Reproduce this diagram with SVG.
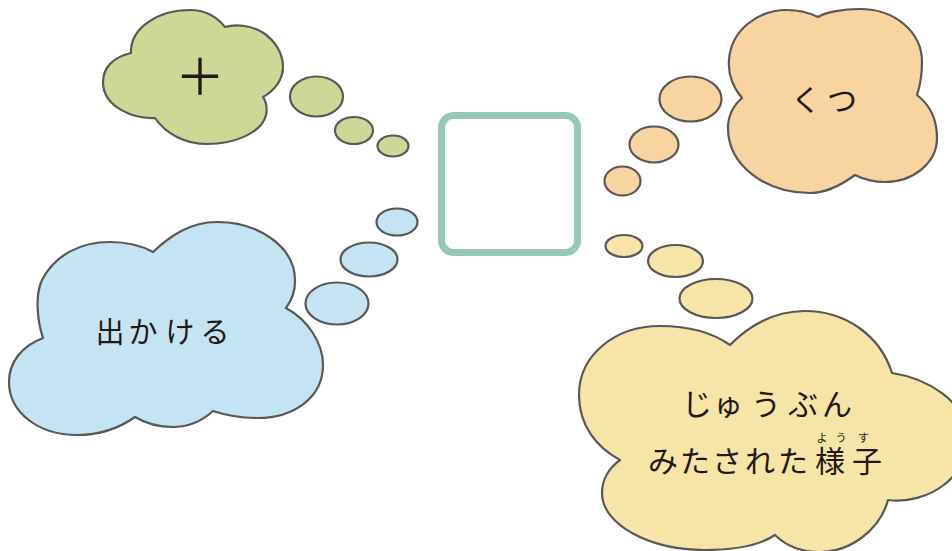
<svg xmlns="http://www.w3.org/2000/svg" width="952" height="551" viewBox="0 0 952 551">
<style>
.cl{stroke:#595757;stroke-width:2.2;stroke-linejoin:round}
.green{fill:#ccd996}
.orange{fill:#f7d4a0}
.blue{fill:#c5e4f3}
.yellow{fill:#f6e5a6}
.t{font-family:"Noto Sans CJK JP","Noto Sans",sans-serif;fill:#231815;text-anchor:middle}
.big{font-size:30px}
.ruby{font-size:11px}
</style>
<rect width="952" height="551" fill="#ffffff"/>
<g id="connectors">
  <g id="bubbles-green" class="cl green">
    <ellipse cx="316.5" cy="96.5" rx="26.5" ry="20"/>
    <ellipse cx="354" cy="130.5" rx="19" ry="13.5"/>
    <ellipse cx="393" cy="146" rx="15.5" ry="10.5"/>
  </g>
  <g id="bubbles-orange" class="cl orange">
    <ellipse cx="690.5" cy="99" rx="31" ry="22.5"/>
    <ellipse cx="654" cy="144.5" rx="24.5" ry="18"/>
    <ellipse cx="622.5" cy="181" rx="18" ry="14.5"/>
  </g>
  <g id="bubbles-blue" class="cl blue">
    <ellipse cx="337" cy="303.5" rx="31.5" ry="21"/>
    <ellipse cx="369" cy="259.5" rx="28.5" ry="17"/>
    <ellipse cx="397" cy="222" rx="20.5" ry="13.5"/>
  </g>
  <g id="bubbles-yellow" class="cl yellow">
    <ellipse cx="624" cy="246" rx="18.5" ry="11"/>
    <ellipse cx="675.5" cy="261" rx="27.5" ry="16"/>
    <ellipse cx="716" cy="298.5" rx="36.5" ry="19.5"/>
  </g>
</g>
<g id="center">
  <rect x="441.5" y="115.5" width="136" height="137" rx="12" fill="#ffffff" stroke="#95c8b9" stroke-width="7"/>
</g>
<g id="cloud-plus">
  <path class="cl green" d="M131,53 C130,28 158,10 190,10 C205,10 217,17 225,27 C235,24 250,25 262,32 C276,41 283,54 283,67 C283,80 274,91 263,97 C267,103 267,110 266,115 C262,132 236,144 207,144 C185,144 166,134 155,118 C135,119 103,108 103,82 C103,67 114,57 131,53 Z"/>
  <text class="t" x="200" y="95" font-size="50">＋</text>
</g>
<g id="cloud-kutsu">
  <path class="cl orange" d="M742,98 C731,85 728,72 729,60 C731,30 758,10 787,10 C800,10 810,13 818,17 C826,12 843,9 860,9 C895,9 922,32 922,62 C922,75 920,86 917,95 C930,105 937,120 937,138 C937,163 913,182 885,182 C873,182 863,179 855,175 C840,186 826,193 810,193 C765,193 728,165 728,128 C728,115 734,105 742,98 Z"/>
  <text class="t big"><tspan x="806 842" y="111">くつ</tspan></text>
</g>
<g id="cloud-dekakeru">
  <path class="cl blue" d="M43,338 C37,320 35,295 42,280 C55,255 80,242 110,242 C127,242 142,246 153,252 C170,236 190,222 217,222 C260,222 296,248 295,282 C295,292 291,301 286,308 C308,320 323,343 323,365 C323,398 293,418 258,418 C240,418 225,415 213,411 C202,421 188,427 173,427 C158,427 145,423 135,417 C118,429 98,435 77,435 C38,435 9,412 9,382 C9,362 22,346 43,338 Z"/>
  <text class="t" font-size="29"><tspan x="110 143 180 215" y="342.5">出かける</tspan></text>
</g>
<g id="cloud-yousu">
  <path class="cl yellow" d="M620,460 C596,447 579,425 579,395 C579,355 615,326 660,326 C688,326 713,333 730,345 C750,325 775,311 805,311 C845,311 880,335 892,373 C925,378 968,400 968,440 C968,475 930,505 888,500 C880,530 850,552 820,552 C800,552 785,545 775,535 C760,545 735,550 705,550 C650,550 602,525 602,493 C602,480 609,468 620,460 Z"/>
  <text class="t big"><tspan x="697 728 766 803 837" y="415">じゅうぶん</tspan></text>
  <text class="t ruby"><tspan x="822 841 863.5" y="441.5">ようす</tspan></text>
  <text class="t big"><tspan x="663 695 727 760 793 830 867" y="472">みたされた様子</tspan></text>
</g>
</svg>
